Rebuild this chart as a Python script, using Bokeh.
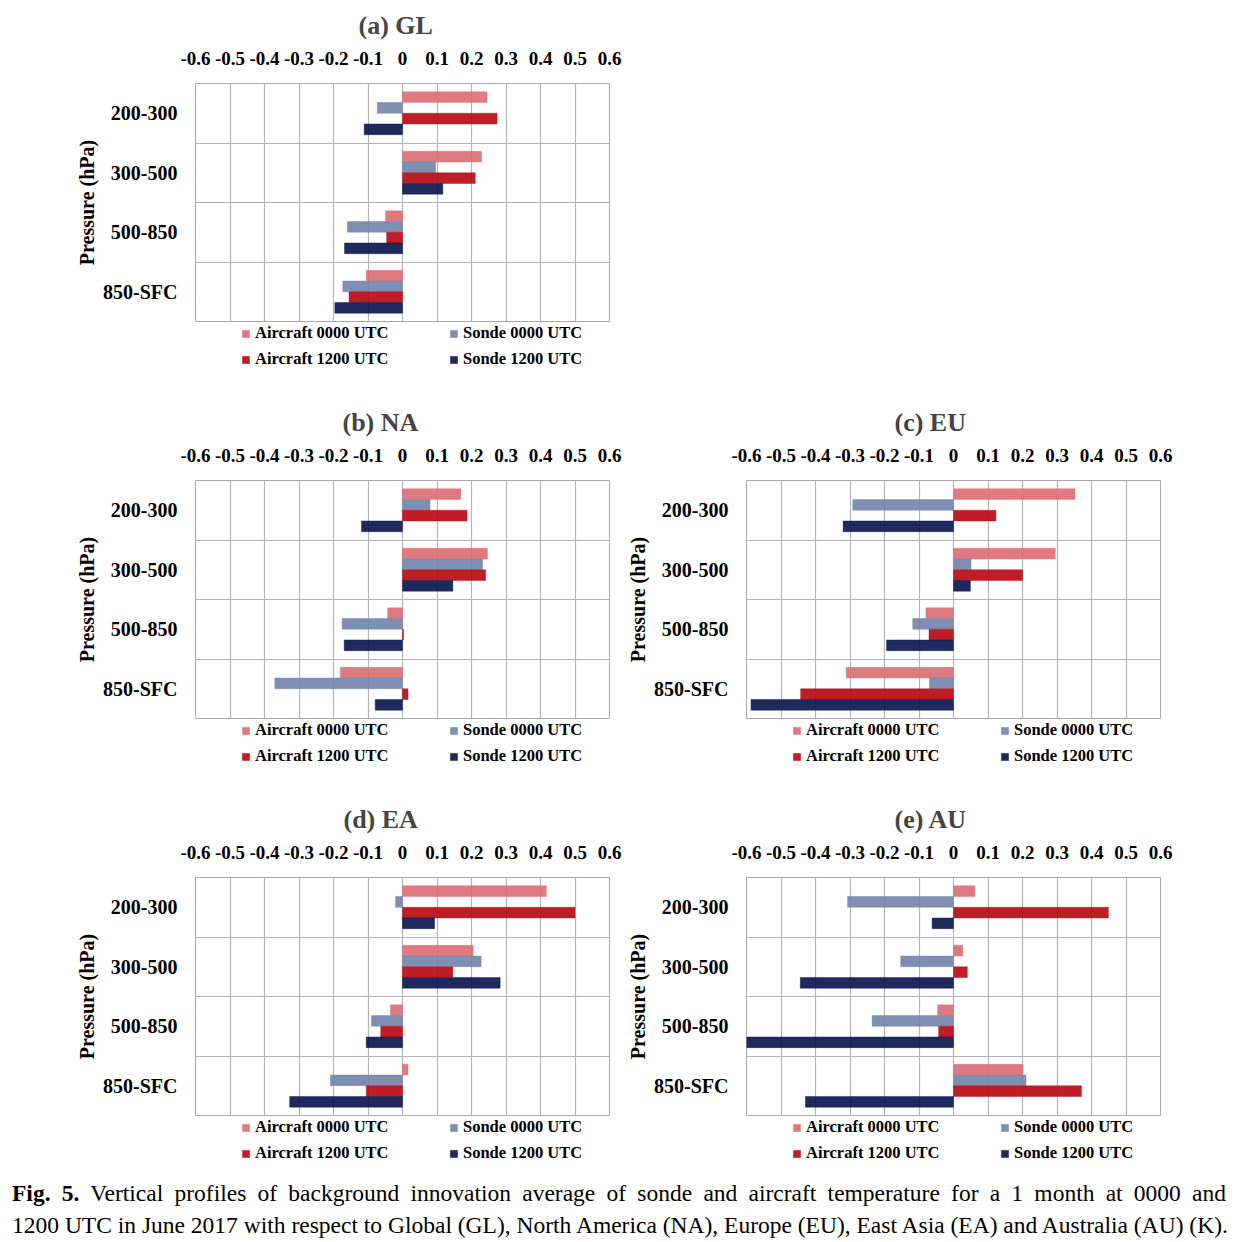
from bokeh.plotting import figure
from bokeh.models import (ColumnDataSource, FixedTicker, Legend, LegendItem, Div, Range1d)
from bokeh.layouts import column, row
from bokeh.transform import dodge
from bokeh.embed import file_html
from bokeh.resources import INLINE

# ---------------- data ----------------
categories = ["200-300", "300-500", "500-850", "850-SFC"]
series_names = ["Aircraft 0000 UTC", "Sonde 0000 UTC", "Aircraft 1200 UTC", "Sonde 1200 UTC"]
x_ticks = [-0.6, -0.5, -0.4, -0.3, -0.2, -0.1, 0.0, 0.1, 0.2, 0.3, 0.4, 0.5, 0.6]
x_labels = ["-0.6", "-0.5", "-0.4", "-0.3", "-0.2", "-0.1", "0", "0.1", "0.2", "0.3", "0.4", "0.5", "0.6"]

gl_air00 = [0.245, 0.229, -0.049, -0.105]
gl_sonde00 = [-0.073, 0.096, -0.160, -0.173]
gl_air12 = [0.274, 0.211, -0.046, -0.155]
gl_sonde12 = [-0.111, 0.117, -0.168, -0.196]

na_air00 = [0.169, 0.246, -0.043, -0.180]
na_sonde00 = [0.080, 0.232, -0.175, -0.370]
na_air12 = [0.187, 0.241, 0.003, 0.016]
na_sonde12 = [-0.119, 0.146, -0.169, -0.079]

eu_air00 = [0.352, 0.295, -0.080, -0.311]
eu_sonde00 = [-0.292, 0.051, -0.118, -0.070]
eu_air12 = [0.123, 0.200, -0.071, -0.443]
eu_sonde12 = [-0.320, 0.049, -0.194, -0.587]

ea_air00 = [0.417, 0.205, -0.035, 0.016]
ea_sonde00 = [-0.020, 0.228, -0.090, -0.209]
ea_air12 = [0.500, 0.146, -0.063, -0.105]
ea_sonde12 = [0.093, 0.283, -0.105, -0.327]

au_air00 = [0.062, 0.027, -0.046, 0.201]
au_sonde00 = [-0.307, -0.153, -0.236, 0.210]
au_air12 = [0.449, 0.040, -0.043, 0.371]
au_sonde12 = [-0.062, -0.444, -0.600, -0.429]

# ---------------- style ----------------
COLORS = ["#dc6c72", "#7083ab", "#b9060e", "#06124c"]
OFFSETS = [0.27, 0.09, -0.09, -0.27]
BAR_H = 0.18
FONT = "Liberation Serif"
GRID = "#b3b3b3"
FRAME_W = 414
FRAME_H = 238
TOP = 83
BOTTOM = 2


def bar_style(k):
    return dict(fill_color=COLORS[k], fill_alpha=0.9, line_color=COLORS[k], line_alpha=0.5,
                line_width=0.8)


def make_legend(items, y):
    return Legend(items=items, orientation="horizontal", location=(46, y),
                  border_line_color=None, background_fill_alpha=0,
                  label_text_font=FONT, label_text_font_size="16.5px", label_text_font_style="bold",
                  label_text_color="black",
                  glyph_width=9, glyph_height=9, label_standoff=5, label_width=186,
                  label_height=18, spacing=8, padding=0, margin=0)


def legend_fig(width, left_border, height):
    lf = figure(width=width, height=height, x_range=Range1d(0, 1), y_range=Range1d(0, 1),
                output_backend="svg", toolbar_location=None, x_axis_type=None, y_axis_type=None,
                min_border_left=left_border, min_border_right=width - left_border - FRAME_W,
                min_border_top=0, min_border_bottom=0)
    lf.outline_line_color = None
    lf.grid.visible = False
    # legend proxies, kept outside the visible range
    proxy = ColumnDataSource(dict(y=[-5.0], right=[-5.0]))
    items = []
    for k in range(4):
        r = lf.hbar(y="y", left=-6.0, right="right", height=BAR_H, source=proxy, **bar_style(k))
        items.append(LegendItem(label=series_names[k], renderers=[r]))
    lf.add_layout(make_legend(items[:2], height - 20), "center")
    lf.add_layout(make_legend(items[2:], height - 46), "center")
    return lf


def panel(title, values, width, left_border, height, title_offset):
    n = len(categories)
    ypos = [n - i - 0.5 for i in range(n)]
    data = dict(y=ypos, cat=categories)
    for k, v in enumerate(values):
        data["s%d" % k] = v
    src = ColumnDataSource(data)

    fig_h = TOP + FRAME_H + BOTTOM
    p = figure(width=width, height=fig_h, x_range=Range1d(-0.6, 0.6), y_range=Range1d(0, n),
               output_backend="svg", toolbar_location=None, x_axis_location="above",
               min_border_left=left_border, min_border_right=width - left_border - FRAME_W,
               min_border_top=TOP, min_border_bottom=BOTTOM,
               title=title)
    p.title.text_font = FONT
    p.title.text_font_size = "26px"
    p.title.text_font_style = "bold"
    p.title.align = "left"
    p.title.offset = title_offset
    p.title.standoff = 17
    p.outline_line_color = "#aaaaaa"
    p.outline_line_width = 1
    p.background_fill_color = "white"
    p.border_fill_color = "white"

    for k in range(4):
        p.hbar(y=dodge("y", OFFSETS[k]), left=0, right="s%d" % k, height=BAR_H, source=src,
               **bar_style(k))

    xa = p.xaxis[0]
    xa.ticker = FixedTicker(ticks=x_ticks)
    xa.major_label_overrides = dict(zip(x_ticks, x_labels))
    xa.axis_line_color = None
    xa.major_tick_line_color = None
    xa.minor_tick_line_color = None
    xa.major_label_standoff = 13
    xa.major_label_text_font = FONT
    xa.major_label_text_font_size = "19px"
    xa.major_label_text_font_style = "bold"
    xa.major_label_text_color = "black"

    ya = p.yaxis[0]
    ya.ticker = FixedTicker(ticks=ypos)
    ya.major_label_overrides = dict(zip(ypos, categories))
    ya.axis_line_color = None
    ya.major_tick_line_color = None
    ya.minor_tick_line_color = None
    ya.major_label_standoff = 12
    ya.major_label_text_font = FONT
    ya.major_label_text_font_size = "20px"
    ya.major_label_text_font_style = "bold"
    ya.major_label_text_color = "black"
    ya.axis_label = "Pressure (hPa)"
    ya.axis_label_standoff = 2
    ya.axis_label_text_font = FONT
    ya.axis_label_text_font_size = "20px"
    ya.axis_label_text_font_style = "bold"
    ya.axis_label_text_color = "black"

    p.xgrid.ticker = FixedTicker(ticks=x_ticks)
    p.ygrid.ticker = FixedTicker(ticks=[float(i) for i in range(1, n)])
    for g in (p.xgrid[0], p.ygrid[0]):
        g.grid_line_color = GRID
        g.grid_line_width = 1.2

    return column(p, legend_fig(width, left_border, height - fig_h))


W1, L1 = 622, 195
W2, L2 = 554, 124
H1 = 397
H3 = 383

pa = panel("(a) GL", [gl_air00, gl_sonde00, gl_air12, gl_sonde12], W1, L1, H1, 163)
pb = panel("(b) NA", [na_air00, na_sonde00, na_air12, na_sonde12], W1, L1, H1, 147)
pc = panel("(c) EU", [eu_air00, eu_sonde00, eu_air12, eu_sonde12], W2, L2, H1, 148)
pd = panel("(d) EA", [ea_air00, ea_sonde00, ea_air12, ea_sonde12], W1, L1, H3, 148)
pe = panel("(e) AU", [au_air00, au_sonde00, au_air12, au_sonde12], W2, L2, H3, 148)

caption = Div(width=1250, height=64, margin=(0, 0, 0, 0), text=(
    "<div style=\"font-family:'Liberation Serif',serif;font-size:23.5px;line-height:32px;"
    "color:black;padding-left:12px;width:1226px\">"
    "<div style=\"text-align:justify;text-align-last:justify;white-space:normal\">"
    "<b>Fig. 5.</b> Vertical profiles of background innovation average of sonde and aircraft "
    "temperature for a 1 month at 0000 and</div>"
    "<div style=\"white-space:nowrap\">1200 UTC in June 2017 with respect to Global (GL), North America (NA), "
    "Europe (EU), East Asia (EA) and Australia (AU) (K).</div></div>"))

layout = column(pa, row(pb, pc), row(pd, pe), caption)

open("out.html", "w").write(file_html(layout, INLINE))
